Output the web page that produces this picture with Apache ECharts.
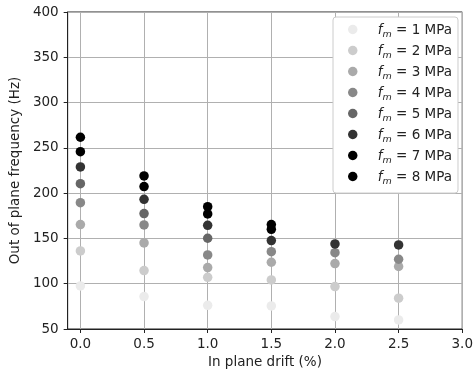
<!DOCTYPE html>
<html>
<head>
<meta charset="utf-8">
<script src="https://cdn.jsdelivr.net/npm/echarts@6/dist/echarts.min.js"></script>
<style>html,body{margin:0;padding:0;background:#fff}#c{width:476px;height:376px}</style>
</head>
<body>
<div id="c"></div>
<script>
var drift = [0, 0.5, 1.0, 1.5, 2.0, 2.5];
var fmValues = [1, 2, 3, 4, 5, 6, 7, 8];
var f1 = [97.6, 85.8, 76.2, 75.5, 63.7, 60.0];
var f2 = [136.2, 114.5, 107.1, 104.2, 96.8, 84.0];
var f3 = [165.3, 145.0, 117.8, 123.7, 122.2, 119.0];
var f4 = [189.5, 164.9, 131.8, 135.4, 134.3, 127.0];
var f5 = [210.5, 177.4, 150.2, null, null, null];
var f6 = [228.9, 193.2, 164.5, 147.6, 143.9, 142.8];
var f7 = [245.8, 207.2, 177.0, 160.1, null, null];
var f8 = [261.7, 219.0, 185.1, 165.3, null, null];
var xTicks = [0, 0.5, 1.0, 1.5, 2.0, 2.5, 3.0];
var yTicks = [50, 100, 150, 200, 250, 300, 350, 400];

var allSeries = [f1, f2, f3, f4, f5, f6, f7, f8];
var colors = ['#ebebeb', '#cccccc', '#aaaaaa', '#888888', '#666666', '#333333', '#000000', '#000000'];
var FONT = 'DejaVu Sans';

var series = allSeries.map(function (vals, k) {
  var data = [];
  for (var i = 0; i < drift.length; i++) {
    if (vals[i] !== null) data.push([drift[i], vals[i]]);
  }
  return {
    name: 'fm' + fmValues[k],
    type: 'scatter',
    symbol: 'circle',
    symbolSize: 9.5,
    itemStyle: { color: colors[k], opacity: 1 },
    data: data,
    z: 2 + k
  };
});

var chart = echarts.init(document.getElementById('c'), null, { renderer: 'canvas' });
chart.setOption({
  animation: false,
  backgroundColor: '#fff',
  textStyle: { fontFamily: FONT },
  grid: { left: 63, right: 13, top: 12, bottom: 47, show: true, borderColor: '#222', borderWidth: 1, backgroundColor: 'transparent' },
  xAxis: {
    type: 'value', min: -0.1, max: 3.0, interval: 0.5,
    name: 'In plane drift (%)', nameLocation: 'middle', nameGap: 26,
    nameTextStyle: { fontFamily: FONT, fontSize: 13.5, color: '#222' },
    axisLine: { show: true, onZero: false, lineStyle: { color: '#222', width: 1 } },
    axisTick: { show: true, inside: false, length: 4, customValues: xTicks, lineStyle: { color: '#222' } },
    axisLabel: { customValues: xTicks, margin: 8, fontFamily: FONT, fontSize: 13.5, color: '#222',
      formatter: function (v) { return v.toFixed(1); } },
    splitLine: { show: true, lineStyle: { color: '#b0b0b0', width: 1 } }
  },
  yAxis: {
    type: 'value', min: 50, max: 400, interval: 50,
    name: 'Out of plane frequency (Hz)', nameLocation: 'middle', nameGap: 40,
    nameTextStyle: { fontFamily: FONT, fontSize: 13.5, color: '#222' },
    axisLine: { show: true, onZero: false, lineStyle: { color: '#222', width: 1 } },
    axisTick: { show: true, inside: false, length: 4, lineStyle: { color: '#222' } },
    axisLabel: { margin: 9, fontFamily: FONT, fontSize: 13.5, color: '#222' },
    splitLine: { show: true, lineStyle: { color: '#b0b0b0', width: 1 } }
  },
  legend: {
    show: true, orient: 'vertical', left: 333, top: 17,
    padding: [6, 6, 6, 15], itemGap: 4,
    itemWidth: 30, itemHeight: 9.5, icon: 'circle',
    backgroundColor: '#ffffff', borderColor: '#cccccc', borderWidth: 1, borderRadius: 3,
    data: series.map(function (s) { return s.name; }),
    formatter: function (name) {
      return '{i|f}{s|m}{t| = ' + name.slice(2) + ' MPa}';
    },
    textStyle: {
      fontFamily: FONT, fontSize: 13.5, color: '#222', padding: [0, 0, 0, 5],
      rich: {
        i: { fontFamily: FONT, fontSize: 13.5, fontStyle: 'italic', color: '#222', verticalAlign: 'bottom', lineHeight: 15 },
        s: { fontFamily: FONT, fontSize: 9.5, fontStyle: 'italic', color: '#222', verticalAlign: 'bottom', lineHeight: 11, padding: [0, 0, -3, 0] },
        t: { fontFamily: FONT, fontSize: 13.5, color: '#222', verticalAlign: 'bottom', lineHeight: 15 }
      }
    }
  },
  series: series
});
</script>
</body>
</html>
